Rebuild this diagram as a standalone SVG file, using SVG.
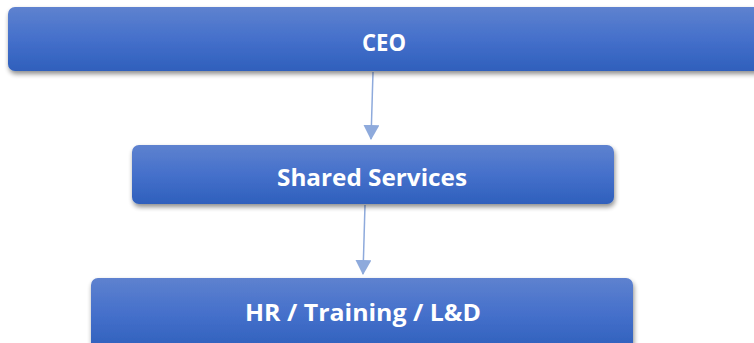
<svg xmlns="http://www.w3.org/2000/svg" width="754" height="343" viewBox="0 0 754 343">
<defs>
<linearGradient id="g" x1="0" y1="0" x2="0" y2="1">
<stop offset="0" stop-color="#5e82cf"/>
<stop offset="0.5" stop-color="#4570cb"/>
<stop offset="1" stop-color="#2f60bc"/>
</linearGradient>
<filter id="sh" x="-10%" y="-20%" width="120%" height="160%">
<feGaussianBlur in="SourceAlpha" stdDeviation="2.5"/>
<feOffset dx="1" dy="3" result="b"/>
<feComponentTransfer><feFuncA type="linear" slope="0.45"/></feComponentTransfer>
<feMerge><feMergeNode/><feMergeNode in="SourceGraphic"/></feMerge>
</filter>
<marker id="ah" markerWidth="15" markerHeight="16" refX="14" refY="8" orient="auto" markerUnits="userSpaceOnUse">
<path d="M0,0 L15,8 L0,16 Z" fill="#8eaadc"/>
</marker>
</defs>
<style>
.box{fill:url(#g);filter:url(#sh)}
.lbl{font-family:"Open Sans","Noto Sans",sans-serif;font-weight:bold;font-size:23px;fill:#ffffff;text-anchor:middle}
.con{stroke:#8eaadc;stroke-width:1.5;fill:none;marker-end:url(#ah)}
</style>
<rect width="754" height="343" fill="#ffffff"/>
<g id="connectors">
<line class="con" x1="373" y1="72" x2="371" y2="139"/>
<line class="con" x1="365" y1="205" x2="363" y2="274"/>
</g>
<g id="ceo">
<rect class="box" x="8" y="7" width="760" height="64" rx="7"/>
<text class="lbl" x="384" y="51" textLength="44" lengthAdjust="spacingAndGlyphs">CEO</text>
</g>
<g id="shared-services">
<rect class="box" x="132" y="145" width="482" height="59" rx="7"/>
<text class="lbl" x="372" y="186" textLength="190" lengthAdjust="spacingAndGlyphs">Shared Services</text>
</g>
<g id="hr-training-ld">
<rect class="box" x="91" y="278" width="542" height="72" rx="7"/>
<text class="lbl" x="363" y="321" textLength="236" lengthAdjust="spacingAndGlyphs">HR / Training / L&amp;D</text>
</g>
</svg>
